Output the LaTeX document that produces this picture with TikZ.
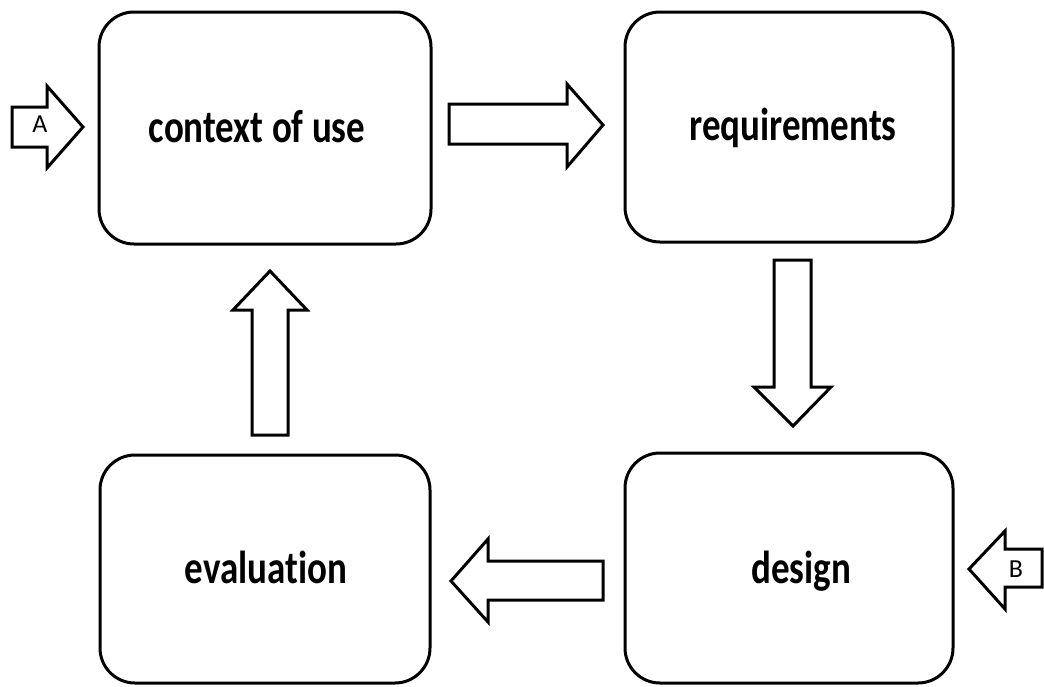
\documentclass[tikz,border=0pt]{standalone}
\usepackage{fontspec}
\usepackage{graphicx}
\setmainfont[Ligatures=NoCommon]{Carlito}
\newcommand{\tallbox}[1]{\scalebox{1}[1.25]{#1}}
\begin{document}
\begin{tikzpicture}[x=1pt,y=-1pt,
  box/.style={draw,line width=3pt,rounded corners=35pt},
  blockarrow/.style={draw,line width=3pt,fill=white,line join=miter},
  lbl/.style={anchor=base,font=\bfseries\fontsize{37}{40}\selectfont,inner sep=0pt},
  small/.style={anchor=base,font=\fontsize{26}{28}\selectfont,inner sep=0pt}]
\useasboundingbox (0,0) rectangle (1044,686);
% boxes
\draw[box] (99,12) rectangle (431,244);
\draw[box] (625,12) rectangle (953,242);
\draw[box] (625,453) rectangle (953,683);
\draw[box] (100,455) rectangle (430,683);
\node[lbl] (ctx) at (257,142) {\tallbox{context of use}};
\node[lbl] (req) at (793,140) {\tallbox{requirements}};
\node[lbl] (des) at (801,583) {\tallbox{design}};
\node[lbl] (eva) at (266,583) {\tallbox{evaluation}};
% block arrows
\draw[blockarrow] (449,104) -- (567,104) -- (567,84) -- (603,125) -- (567,167) -- (567,144) -- (449,144) -- cycle;
\draw[blockarrow] (774,260) -- (811,260) -- (811,387) -- (831,387) -- (793,426) -- (754,387) -- (774,387) -- cycle;
\draw[blockarrow] (603,561) -- (488,561) -- (488,539) -- (451,581) -- (488,622) -- (488,600) -- (603,600) -- cycle;
\draw[blockarrow] (252,435) -- (252,310) -- (233,310) -- (270,271) -- (307,310) -- (288,310) -- (288,435) -- cycle;
\draw[blockarrow] (12,107) -- (47,107) -- (47,86) -- (83,127) -- (47,168) -- (47,147) -- (12,147) -- cycle;
\draw[blockarrow] (1042,549) -- (1005,549) -- (1005,531) -- (969,569) -- (1005,609) -- (1005,587) -- (1042,587) -- cycle;
\node[small] (a) at (40,132) {A};
\node[small] (b) at (1016,577) {B};
\end{tikzpicture}
\end{document}
